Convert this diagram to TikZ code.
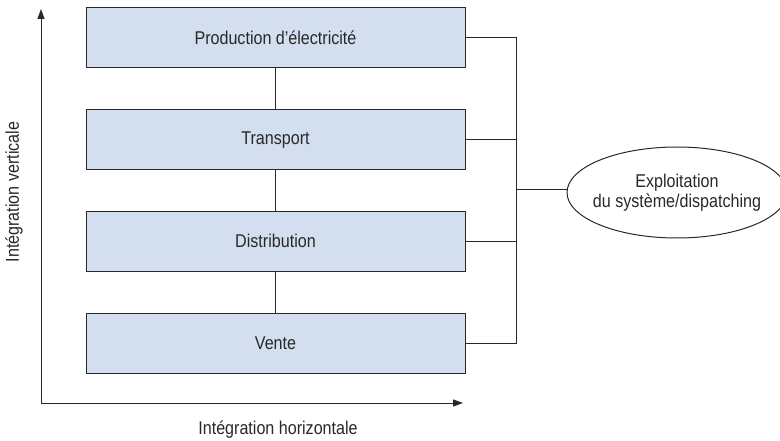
\documentclass[tikz,border=0pt]{standalone}
\usepackage{fontspec}
\setmainfont[FakeStretch=0.87]{Liberation Sans}
\usetikzlibrary{arrows.meta,shapes.geometric}
\definecolor{boxfill}{RGB}{211,222,239}
\definecolor{ink}{RGB}{40,40,40}
\begin{document}
\begin{tikzpicture}[x=1pt,y=-1pt,
  every node/.style={font=\fontsize{18.5}{20}\selectfont, text=ink},
  stagebox/.style={draw=ink, line width=1pt, fill=boxfill, minimum width=379pt, minimum height=60pt, inner sep=0pt},
  link/.style={draw=ink, line width=1pt},
  axis/.style={draw=ink, line width=1pt, -{Triangle[length=10pt,width=7pt]}}]
\useasboundingbox (0,0) rectangle (780,441);
\begin{scope}
\clip (0,0) rectangle (780,441);
\node[ellipse, draw=ink, line width=1pt, minimum width=220pt, minimum height=91pt, inner sep=0pt] (e) at (677,192.5) {};
\end{scope}
\node[align=center, font=\fontsize{18.5}{19.5}\selectfont] (et) at (e.center) {Exploitation\\du système/dispatching};
\node[stagebox] (p) at (275.5,38) {Production d’électricité};
\node[stagebox] (t) at (275.5,139.7) {Transport};
\node[stagebox] (d) at (275.5,241.3) {Distribution};
\node[stagebox] (v) at (275.5,343) {Vente};
\draw[link] (p) -- (t);
\draw[link] (t) -- (d);
\draw[link] (d) -- (v);
\coordinate (b1) at (516,38);
\coordinate (b4) at (516,343);
\coordinate (bm) at (516,190);
\draw[link] (p.east) -- (b1) -- (b4) -- (v.east);
\draw[link] (t.east) -- (t.east -| b1);
\draw[link] (d.east) -- (d.east -| b1);
\draw[link] (bm) -- (e.west |- bm);
\coordinate (o) at (41,403);
\coordinate (ytop) at (41,9);
\coordinate (xend) at (463,403);
\draw[axis] (o) -- (ytop);
\draw[axis] (o) -- (xend);
\node[rotate=90] (yl) at (14,192) {Intégration verticale};
\node (xl) at (278,430) {Intégration horizontale};
\end{tikzpicture}
\end{document}
